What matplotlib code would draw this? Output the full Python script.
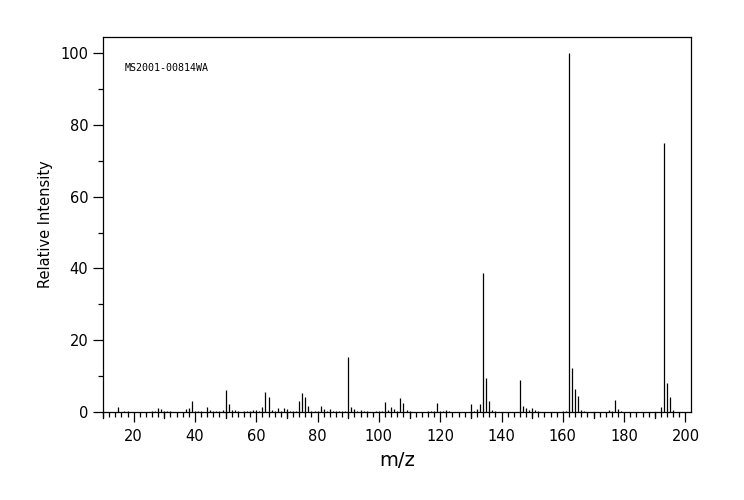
import matplotlib
matplotlib.use("Agg")
import matplotlib.pyplot as plt
from matplotlib.ticker import MultipleLocator
from matplotlib.lines import Line2D

mz = [15, 17, 18, 26, 27, 28, 29, 30, 31, 32, 37, 38, 39, 40, 41, 42, 44, 45, 46, 47,
      48, 49, 50, 51, 52, 53, 54, 56, 57, 58, 59, 60, 61, 62, 63, 64, 65, 66, 67, 68,
      69, 70, 71, 72, 73, 74, 75, 76, 77, 78, 79, 80, 81, 82, 83, 84, 85, 86, 87, 88,
      89, 90, 91, 92, 93, 94, 95, 96, 99, 100, 101, 102, 103, 104, 105, 106, 107, 108,
      109, 110, 116, 117, 118, 119, 120, 121, 122, 123, 130, 131, 132, 133, 134, 135,
      136, 137, 138, 146, 147, 148, 149, 150, 151, 152, 160, 161, 162, 163, 164, 165,
      166, 167, 175, 176, 177, 178, 179, 192, 193, 194, 195, 196]
intensity = [1.5, 0.3, 0.3, 0.3, 0.3, 1.2, 0.8, 0.3, 0.3, 0.3, 0.8, 1.0, 3.1, 0.3, 0.3, 0.3,
             1.4, 0.6, 0.3, 0.3, 0.3, 0.6, 6.1, 2.2, 0.6, 0.6, 0.3, 0.3, 0.3, 0.4, 0.6, 0.6,
             0.3, 1.4, 5.6, 4.3, 0.6, 0.3, 1.0, 0.4, 1.2, 0.8, 0.3, 0.3, 0.3, 3.2, 5.2, 4.3,
             1.8, 0.4, 0.3, 0.3, 1.8, 0.7, 0.4, 0.7, 0.3, 0.3, 0.3, 0.4, 0.4, 15.2, 1.5, 0.8,
             0.4, 0.5, 0.4, 0.3, 0.3, 0.3, 0.3, 2.7, 0.6, 1.4, 0.8, 0.4, 3.9, 2.5, 0.6, 0.3,
             0.3, 0.3, 0.3, 2.5, 0.3, 0.4, 0.6, 0.3, 2.2, 0.3, 0.8, 2.2, 38.7, 9.5, 3.1, 0.6,
             0.4, 8.8, 1.7, 1.1, 0.6, 1.1, 0.6, 0.4, 0.4, 0.4, 100.0, 12.3, 6.4, 4.5, 0.6,
             0.4, 0.6, 0.4, 3.3, 0.8, 0.4, 1.4, 74.9, 8.1, 4.2, 0.6]
sample_id = "MS2001-00814WA"
x_label = "m/z"
y_label = "Relative Intensity"

fig = plt.figure(figsize=(7.44, 5.0), dpi=100)
ax = fig.add_axes([103 / 744, 1 - 412 / 500, (691 - 103) / 744, (412 - 37) / 500])

ax.vlines(mz, 0, intensity, colors="black", linewidth=0.9)

ax.set_xlim(10, 201.8)
ax.set_ylim(0, 104.5)

ax.xaxis.set_major_locator(MultipleLocator(20))
ax.xaxis.set_minor_locator(MultipleLocator(2))
ax.yaxis.set_major_locator(MultipleLocator(20))
ax.yaxis.set_minor_locator(MultipleLocator(10))

ax.tick_params(axis="both", which="major", direction="out", length=7.5, width=0.9,
               labelsize=10.5, color="black")
ax.tick_params(axis="both", which="minor", direction="out", length=3.8, width=0.9)
ax.tick_params(axis="x", which="major", pad=5)
ax.tick_params(axis="y", which="major", pad=3)

# medium-length ticks at the odd tens on x
trans = ax.get_xaxis_transform()
for v in range(10, 201, 20):
    ax.add_line(Line2D([v, v], [0, -0.015], transform=trans, color="black",
                       linewidth=0.9, clip_on=False))

for s in ax.spines.values():
    s.set_linewidth(0.9)

ax.set_xlabel(x_label, fontsize=14, labelpad=5)
ax.set_ylabel(y_label, fontsize=10.5, labelpad=5)

ax.text(0.037, 0.918, sample_id, transform=ax.transAxes, fontsize=7.2,
        family="DejaVu Sans Mono", va="center", ha="left")

fig.savefig("out.png", dpi=100)
